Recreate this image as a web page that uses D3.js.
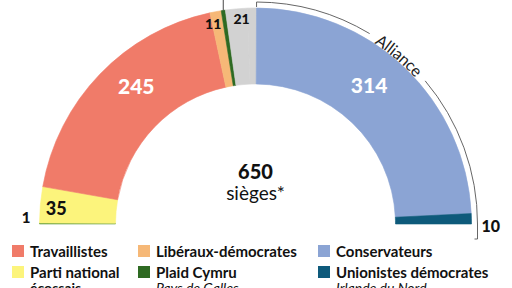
<!DOCTYPE html>
<html>
<head>
<meta charset="utf-8">
<script src="https://cdn.jsdelivr.net/npm/d3@7"></script>
<style>
body { margin: 0; background: #fff; }
svg { font-family: Lato, "Open Sans", sans-serif; }
</style>
</head>
<body>
<svg id="chart" width="512" height="288"></svg>
<script>
// seats, left to right round the half ring (650 seats in all, the last grey block is the rest)
var parties = ["Verts", "Parti national écossais", "Travaillistes", "Libéraux-démocrates", "Plaid Cymru", "Autres", "Autres (reste)", "Conservateurs", "Unionistes démocrates"];
var seats = [1, 35, 245, 11, 4, 21, 9, 314, 10];
var colors = ["#5f9a3c", "#fcf47c", "#f07b69", "#f6b877", "#2e6a22", "#d2d2d2", "#d2d2d2", "#8ba4d4", "#0e5a7b"];

// legend rows
var legendNames = ["Travaillistes", "Libéraux-démocrates", "Conservateurs", "Parti national", "Plaid Cymru", "Unionistes démocrates"];
var legendSub = ["", "", "", "écossais", "Pays de Galles", "Irlande du Nord"];
var legendColors = ["#f07b69", "#f6b877", "#8ba4d4", "#fcf47c", "#2e6a22", "#0e5a7b"];

var svg = d3.select("#chart");
var cx = 255.5, cy = 224, r0 = 140, r1 = 216;
var total = d3.sum(seats);

var angle = d3.scaleLinear().domain([0, total]).range([-Math.PI / 2, Math.PI / 2]);
var cum = d3.cumsum(seats);
var segs = seats.map(function (s, i) {
  return { v: s, a0: angle(cum[i] - s), a1: angle(cum[i]), c: colors[i] };
});

var g = svg.append("g").attr("transform", "translate(" + cx + "," + cy + ")");
var arc = d3.arc().innerRadius(r0).outerRadius(r1);

g.selectAll("path.seg").data(segs).enter().append("path")
  .attr("class", "seg")
  .attr("d", function (d) { return arc({ startAngle: d.a0, endAngle: d.a1 }); })
  .attr("fill", function (d) { return d.c; })
  .attr("stroke", function (d) { return d.c; })
  .attr("stroke-width", 0.6);

// helper: point at angle a (d3 arc convention) and radius r
function pt(a, r) { return [r * Math.sin(a), -r * Math.cos(a)]; }

// Alliance bracket
var rb = 222;
var aStart = segs[7].a0, aEnd = Math.PI / 2;
var gap0 = 0.54, gap1 = 0.87;
function arcLine(a, b) {
  var p = d3.path();
  p.arc(0, 0, rb, a - Math.PI / 2, b - Math.PI / 2);
  return p.toString();
}
g.append("path").attr("d", arcLine(aStart, gap0)).attr("fill", "none").attr("stroke", "#555").attr("stroke-width", 0.9);
g.append("path").attr("d", arcLine(gap1, aEnd)).attr("fill", "none").attr("stroke", "#555").attr("stroke-width", 0.9);
var s0 = pt(aStart, rb), s1 = pt(aStart, r1 + 1);
g.append("line").attr("x1", s0[0]).attr("y1", s0[1]).attr("x2", s1[0]).attr("y2", s1[1]).attr("stroke", "#555").attr("stroke-width", 0.9);
var e0 = pt(aEnd, rb);
g.append("path").attr("d", "M" + e0[0] + "," + e0[1] + "v15h-3").attr("fill", "none").attr("stroke", "#555").attr("stroke-width", 0.9);

// text along the bracket
svg.append("defs").append("path").attr("id", "allPath")
  .attr("transform", "translate(" + cx + "," + cy + ")")
  .attr("d", arcLine(gap0 - 0.2, gap1 + 0.2));
svg.append("text").attr("font-size", 16).attr("fill", "#222").attr("dy", 5.5)
  .append("textPath").attr("href", "#allPath").attr("startOffset", "50%").attr("text-anchor", "middle")
  .text("Alliance");

// leader line for Plaid Cymru (goes off the top)
var lp = pt((segs[4].a0 + segs[4].a1) / 2, r1);
g.append("line").attr("x1", lp[0]).attr("y1", lp[1]).attr("x2", lp[0]).attr("y2", -cy).attr("stroke", "#333").attr("stroke-width", 0.9);

// seat labels
function midA(i) { return (segs[i].a0 + segs[i].a1) / 2; }
var labels = [
  { a: midA(2) + 0.09, r: 182, fill: "#fff", size: 21, text: seats[2] },
  { a: midA(7) - 0.076, r: 179, fill: "#fff", size: 21, text: seats[7] },
  { a: midA(1) - 0.01, r: 200, fill: "#111", size: 18, text: seats[1] },
  { a: midA(3) - 0.023, r: 204, fill: "#111", size: 14, text: seats[3] },
  { a: (segs[5].a0 + segs[6].a1) / 2, r: 206, fill: "#111", size: 14, text: seats[5] }
];
labels.forEach(function (l) {
  var p = pt(l.a, l.r);
  g.append("text").attr("x", p[0]).attr("y", p[1]).attr("dy", "0.36em")
    .attr("text-anchor", "middle").attr("font-weight", 900)
    .attr("font-size", l.size).attr("fill", l.fill).text(l.text);
});
g.append("text").attr("x", -r1 - 9).attr("y", -1).attr("text-anchor", "end").attr("font-weight", 900).attr("font-size", 15).attr("fill", "#111").text(seats[0]);
g.append("text").attr("x", r1 + 10).attr("y", 8).attr("text-anchor", "start").attr("font-weight", 900).attr("font-size", 16).attr("fill", "#111").text(seats[8]);

// centre
svg.append("text").attr("x", cx).attr("y", 179).attr("text-anchor", "middle").attr("font-weight", 900).attr("font-size", 20).attr("fill", "#111").text(total);
svg.append("text").attr("x", cx).attr("y", 200).attr("text-anchor", "middle").attr("font-size", 19).attr("fill", "#111").text("sièges*");

// legend
var colX = [12, 138, 318], rowY = [251, 272];
legendNames.forEach(function (n, i) {
  var x = colX[i % 3], y = rowY[Math.floor(i / 3)];
  svg.append("rect").attr("x", x).attr("y", y - 6).attr("width", 12).attr("height", 12).attr("fill", legendColors[i]);
  svg.append("text").attr("x", x + 18).attr("y", y + 5.5).attr("font-weight", "bold").attr("font-size", 15).attr("fill", "#111").text(n);
  if (legendSub[i]) {
    svg.append("text").attr("x", x + 18).attr("y", y + 21).attr("font-size", 14)
      .attr("font-weight", i === 3 ? "bold" : "normal")
      .attr("font-style", i === 3 ? null : "italic").attr("fill", "#111").text(legendSub[i]);
  }
});
</script>
</body>
</html>
